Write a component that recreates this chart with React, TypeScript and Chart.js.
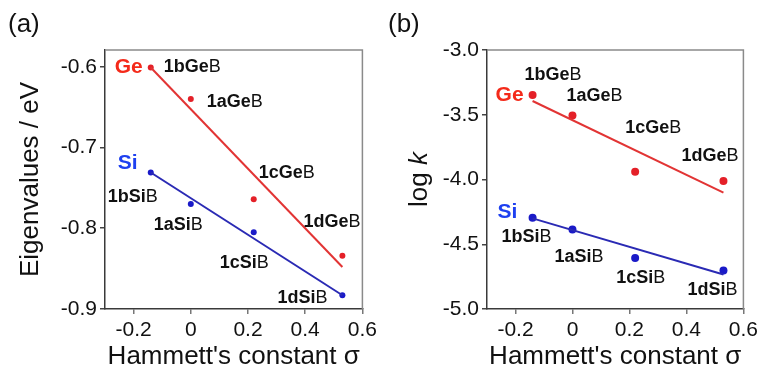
import React, { useEffect, useRef } from 'react';
import { Chart, registerables } from 'chart.js';
Chart.register(...registerables);

// ---------- data ----------
const sigma = [-0.14, 0, 0.22, 0.53];
const compounds = ['1b', '1a', '1c', '1d'];
const fitX = [-0.14, 0.53];

const eigGe = [-0.601, -0.64, -0.764, -0.834];
const eigSi = [-0.731, -0.77, -0.805, -0.883];
const eigFitGe = [-0.601, -0.848];
const eigFitSi = [-0.731, -0.883];

const logkGe = [-3.348, -3.505, -3.94, -4.012];
const logkSi = [-4.295, -4.386, -4.607, -4.702];
const logkFitGe = [-3.394, -4.102];
const logkFitSi = [-4.3, -4.733];

const xTicks = [-0.2, 0, 0.2, 0.4, 0.6];
const eigTicks = [-0.9, -0.8, -0.7, -0.6];
const logkTicks = [-5.0, -4.5, -4.0, -3.5, -3.0];

// ---------- styles ----------
const FONT = '"Liberation Sans", Arial, Helvetica, sans-serif';
const RED_TXT = '#f42a1a';
const RED_PT = '#e42028';
const RED_LN = '#e23434';
const BLUE_TXT = '#1e40f0';
const BLUE_PT = '#1a1ac8';
const BLUE_LN = '#2a2ab4';

type PanelCfg = {
  letter: string;
  yTitle: string;
  yMin: number;
  yMax: number;
  yTicks: number[];
  ge: number[];
  si: number[];
  fitGe: number[];
  fitSi: number[];
  pointR: number;
  yAxisWidth: number;
  padRight: number;
  geOff: number[][];
  siOff: number[][];
  geTag: number[];
  siTag: number[];
  letterX: number;
  italicK?: boolean;
};

const panelA: PanelCfg = {
  letter: '(a)',
  yTitle: 'Eigenvalues / eV',
  yMin: -0.9,
  yMax: -0.5793,
  yTicks: eigTicks,
  ge: eigGe,
  si: eigSi,
  fitGe: eigFitGe,
  fitSi: eigFitSi,
  pointR: 3,
  yAxisWidth: 105,
  padRight: 18,
  geOff: [[13, 0], [16, 3], [5, -26], [-39, -34]],
  siOff: [[-43, 25], [-37, 21], [-34, 31], [-65, 3]],
  geTag: [-36, 0],
  siTag: [-33, -9],
  letterX: 8,
};

const panelB: PanelCfg = {
  letter: '(b)',
  yTitle: 'log k',
  yMin: -5.0,
  yMax: -3.0,
  yTicks: logkTicks,
  ge: logkGe,
  si: logkSi,
  fitGe: logkFitGe,
  fitSi: logkFitSi,
  pointR: 4,
  yAxisWidth: 106,
  padRight: 14,
  geOff: [[-8, -20], [-6, -19], [-10, -44], [-42, -25]],
  siOff: [[-31, 19], [-18, 28], [-19, 20], [-36, 20]],
  geTag: [-37, 0],
  siTag: [-35, -5],
  letterX: 7,
  italicK: true,
};

function drawCompound(ctx: CanvasRenderingContext2D, x: number, y: number, bold: string, reg: string) {
  ctx.textAlign = 'left';
  ctx.textBaseline = 'middle';
  ctx.fillStyle = '#111';
  ctx.font = `bold 18px ${FONT}`;
  ctx.fillText(bold, x, y);
  const w = ctx.measureText(bold).width;
  ctx.font = `18px ${FONT}`;
  ctx.fillText(reg, x + w, y);
}

function Panel({ cfg, left }: { cfg: PanelCfg; left: number }) {
  const ref = useRef<HTMLCanvasElement>(null);
  useEffect(() => {
    const canvas = ref.current!;
    const fmt = (v: number, digits: number) => (v === 0 ? '0' : v.toFixed(digits));
    const decorPlugin = {
      id: 'decor' + cfg.letter,
      beforeDatasetsDraw(chart: any) {
        const { ctx, chartArea: a } = chart;
        ctx.save();
        ctx.strokeStyle = '#8a8a8a';
        ctx.lineWidth = 1.5;
        ctx.beginPath();
        ctx.moveTo(a.left, a.top);
        ctx.lineTo(a.right, a.top);
        ctx.lineTo(a.right, a.bottom);
        ctx.stroke();
        ctx.restore();
      },
      afterDatasetsDraw(chart: any) {
        const { ctx } = chart;
        const xs = chart.scales.x;
        const ys = chart.scales.y;
        ctx.save();
        sigma.forEach((s, i) => {
          const px = xs.getPixelForValue(s);
          const gy = ys.getPixelForValue(cfg.ge[i]);
          const sy = ys.getPixelForValue(cfg.si[i]);
          drawCompound(ctx, px + cfg.geOff[i][0], gy + cfg.geOff[i][1], compounds[i] + 'Ge', 'B');
          drawCompound(ctx, px + cfg.siOff[i][0], sy + cfg.siOff[i][1], compounds[i] + 'Si', 'B');
        });
        const px0 = xs.getPixelForValue(sigma[0]);
        ctx.textAlign = 'left';
        ctx.textBaseline = 'middle';
        ctx.font = `bold 21px ${FONT}`;
        ctx.fillStyle = RED_TXT;
        ctx.fillText('Ge', px0 + cfg.geTag[0], ys.getPixelForValue(cfg.ge[0]) + cfg.geTag[1]);
        ctx.fillStyle = BLUE_TXT;
        ctx.fillText('Si', px0 + cfg.siTag[0], ys.getPixelForValue(cfg.si[0]) + cfg.siTag[1]);
        // panel letter
        ctx.font = `26px ${FONT}`;
        ctx.fillStyle = '#111';
        ctx.fillText(cfg.letter, cfg.letterX, 25);
        if (cfg.italicK) {
          const cy = (chart.chartArea.top + chart.chartArea.bottom) / 2;
          ctx.translate(46, cy);
          ctx.rotate(-Math.PI / 2);
          ctx.textBaseline = 'alphabetic';
          ctx.font = `26px ${FONT}`;
          const w1 = ctx.measureText('log ').width;
          ctx.font = `italic 26px ${FONT}`;
          const w2 = ctx.measureText('k').width;
          const x0 = -(w1 + w2) / 2;
          ctx.font = `26px ${FONT}`;
          ctx.fillText('log ', x0, 0);
          ctx.font = `italic 26px ${FONT}`;
          ctx.fillText('k', x0 + w1, 0);
        }
        ctx.restore();
      },
    };

    const chart = new Chart(canvas, {
      type: 'scatter',
      data: {
        datasets: [
          {
            label: 'Ge fit',
            data: fitX.map((x, i) => ({ x, y: cfg.fitGe[i] })),
            showLine: true,
            borderColor: RED_LN,
            borderWidth: 2,
            pointRadius: 0,
          },
          {
            label: 'Si fit',
            data: fitX.map((x, i) => ({ x, y: cfg.fitSi[i] })),
            showLine: true,
            borderColor: BLUE_LN,
            borderWidth: 2,
            pointRadius: 0,
          },
          {
            label: 'Ge',
            data: sigma.map((x, i) => ({ x, y: cfg.ge[i] })),
            backgroundColor: RED_PT,
            borderColor: RED_PT,
            pointRadius: cfg.pointR,
            borderWidth: 0,
          },
          {
            label: 'Si',
            data: sigma.map((x, i) => ({ x, y: cfg.si[i] })),
            backgroundColor: BLUE_PT,
            borderColor: BLUE_PT,
            pointRadius: cfg.pointR,
            borderWidth: 0,
          },
        ],
      },
      options: {
        animation: false,
        responsive: false,
        maintainAspectRatio: false,
        layout: { padding: { top: 50, right: cfg.padRight, left: 0, bottom: 0 } },
        plugins: { legend: { display: false }, tooltip: { enabled: false } },
        scales: {
          x: {
            type: 'linear',
            min: -0.3,
            max: 0.6,
            afterFit: (s: any) => {
              s.height = 62;
            },
            afterBuildTicks: (s: any) => {
              s.ticks = xTicks.map((v) => ({ value: v }));
            },
            ticks: {
              callback: (v: any) => fmt(Number(v), 1),
              font: { family: FONT, size: 21 },
              color: '#111',
              padding: 4,
              maxRotation: 0,
              autoSkip: false,
            },
            grid: { drawOnChartArea: false, drawTicks: true, tickLength: 5, color: '#777', lineWidth: 1.5 },
            border: { display: true, color: '#3a3a3a', width: 1.5 },
            title: {
              display: true,
              text: "Hammett's constant σ",
              font: { family: FONT, size: 26, lineHeight: 1.1 },
              color: '#111',
              padding: { top: 0, bottom: 0 },
            },
          },
          y: {
            type: 'linear',
            min: cfg.yMin,
            max: cfg.yMax,
            afterFit: (s: any) => {
              s.width = cfg.yAxisWidth;
            },
            afterBuildTicks: (s: any) => {
              s.ticks = cfg.yTicks.map((v) => ({ value: v }));
            },
            ticks: {
              callback: (v: any) => fmt(Number(v), 1),
              font: { family: FONT, size: 21 },
              color: '#111',
              padding: 3,
              autoSkip: false,
            },
            grid: { drawOnChartArea: false, drawTicks: true, tickLength: 5, color: '#444', lineWidth: 1.5 },
            border: { display: true, color: '#3a3a3a', width: 1.5 },
            title: {
              display: !cfg.italicK,
              text: cfg.yTitle,
              font: { family: FONT, size: 26, lineHeight: 1.1 },
              color: '#111',
              padding: { top: 17, bottom: 0 },
            },
          },
        },
      },
      plugins: [decorPlugin],
    } as any);
    return () => chart.destroy();
  }, [cfg]);
  return (
    <canvas
      ref={ref}
      width={381}
      height={371}
      style={{ position: 'absolute', left, top: 0, width: 381, height: 371, display: 'block' }}
    />
  );
}

export default function App() {
  return (
    <div style={{ position: 'fixed', left: 0, top: 0, width: 762, height: 371, background: '#fff' }}>
      <Panel cfg={panelA} left={0} />
      <Panel cfg={panelB} left={381} />
    </div>
  );
}
